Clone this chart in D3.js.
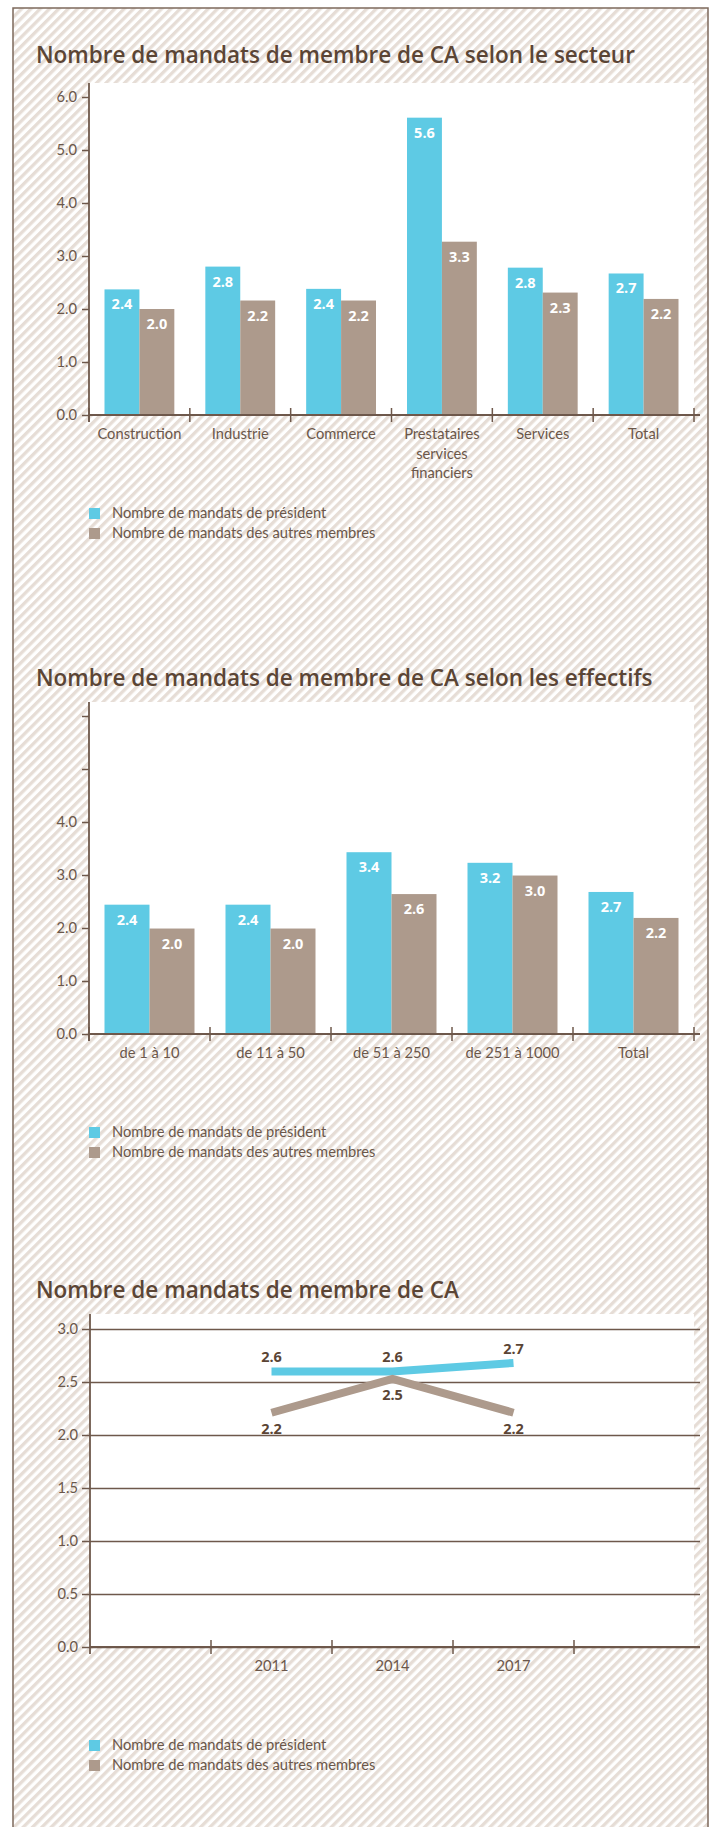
<!DOCTYPE html>
<html>
<head>
<meta charset="utf-8">
<script src="https://cdn.jsdelivr.net/npm/d3@7"></script>
<style>
  body { margin: 0; background: #fff; }
  svg text { font-family: Lato, "Open Sans", sans-serif; }
  .title { font-family: "Open Sans", sans-serif; font-weight: 600; font-size: 22.5px; fill: #5b4535; }
  .tick text, .cat-label, .legend text { font-size: 14.7px; fill: #6b574a; }
  .bar-label { font-family: "Open Sans", sans-serif; font-weight: 700; font-size: 14.5px; fill: #fff; }
  .line-label { font-family: "Open Sans", sans-serif; font-weight: 700; font-size: 14.5px; fill: #5b4535; }
</style>
</head>
<body>
<script>
// Chart 1 : by sector
var sectorCategories = ["Construction", "Industrie", "Commerce", "Prestataires services financiers", "Services", "Total"];
var sectorPresident = [2.37, 2.8, 2.38, 5.61, 2.78, 2.67];
var sectorOthers = [2.0, 2.16, 2.16, 3.27, 2.31, 2.19];

// Chart 2 : by headcount
var sizeCategories = ["de 1 à 10", "de 11 à 50", "de 51 à 250", "de 251 à 1000", "Total"];
var sizePresident = [2.44, 2.44, 3.43, 3.23, 2.68];
var sizeOthers = [1.99, 1.99, 2.64, 2.99, 2.19];

// Chart 3 : over time
var years = ["2011", "2014", "2017"];
var yearPresident = [2.6, 2.6, 2.68];
var yearOthers = [2.21, 2.53, 2.21];

var seriesNames = ["Nombre de mandats de président", "Nombre de mandats des autres membres"];
var barTicks = [0, 1, 2, 3, 4, 5, 6];
var lineTicks = [0, 0.5, 1, 1.5, 2, 2.5, 3];

var colors = ["#5ecae4", "#ad9a8c"];
var axisColor = "#6e584b";
var fmt = d3.format(".1f");

var svgWidth = 715;
var svgHeight = 1827;

var svg = d3.select("body")
  .append("svg")
  .attr("width", svgWidth)
  .attr("height", svgHeight);

// striped background pattern
var defs = svg.append("defs");
var pattern = defs.append("pattern")
  .attr("id", "stripes")
  .attr("patternUnits", "userSpaceOnUse")
  .attr("width", 6.6)
  .attr("height", 6.6)
  .attr("patternTransform", "rotate(45)");
pattern.append("rect").attr("width", 6.6).attr("height", 6.6).attr("fill", "#fff");
pattern.append("rect").attr("width", 3.3).attr("height", 6.6).attr("fill", "#e6ddd6");

svg.append("rect")
  .attr("x", 13).attr("y", 8)
  .attr("width", 695).attr("height", 1840)
  .attr("fill", "url(#stripes)")
  .attr("stroke", "#7d695c")
  .attr("stroke-width", 1.5);

function wrap(text, width) {
  text.each(function () {
    var t = d3.select(this);
    var words = t.text().split(/\s+/);
    var x = t.attr("x") || 0;
    var y = t.attr("y");
    var dy = parseFloat(t.attr("dy")) || 0;
    var line = [];
    var lineNumber = 0;
    var tspan = t.text(null).append("tspan").attr("x", x).attr("y", y).attr("dy", dy + "em");
    words.forEach(function (word) {
      line.push(word);
      tspan.text(line.join(" "));
      if (tspan.node().getComputedTextLength() > width && line.length > 1) {
        line.pop();
        tspan.text(line.join(" "));
        line = [word];
        tspan = t.append("tspan").attr("x", x).attr("y", y)
          .attr("dy", (++lineNumber * 1.3 + dy) + "em").text(word);
      }
    });
  });
}

function drawTitle(text, y) {
  svg.append("text").attr("class", "title").attr("x", 36).attr("y", y).text(text);
}

function drawLegend(y) {
  var legend = svg.append("g").attr("class", "legend");
  seriesNames.forEach(function (name, i) {
    legend.append("rect")
      .attr("x", 89).attr("y", y + i * 20)
      .attr("width", 11).attr("height", 11)
      .attr("fill", colors[i]);
    legend.append("text")
      .attr("x", 112).attr("y", y + i * 20 + 10)
      .text(name);
  });
}

function drawBarChart(cfg) {
  var left = 89, right = 694;
  var n = cfg.categories.length;
  var yScale = d3.scaleLinear().domain([0, 6]).range([cfg.y0, cfg.y0 - 6 * 53]);
  var xScale = d3.scaleBand().domain(cfg.categories).range([left, right]);
  var bw = xScale.bandwidth();
  var inner = d3.scaleBand().domain([0, 1]).range([15.5, bw - 15.5]);

  // white plot panel
  svg.append("rect")
    .attr("x", left).attr("y", cfg.top)
    .attr("width", right - left).attr("height", cfg.y0 - cfg.top)
    .attr("fill", "#fff");

  var series = [cfg.president, cfg.others];
  series.forEach(function (vals, s) {
    var g = svg.append("g");
    g.selectAll("rect")
      .data(vals)
      .enter()
      .append("rect")
      .attr("x", function (d, i) { return xScale(cfg.categories[i]) + inner(s); })
      .attr("y", function (d) { return yScale(d); })
      .attr("width", inner.bandwidth())
      .attr("height", function (d) { return cfg.y0 - yScale(d); })
      .attr("fill", colors[s]);
    g.selectAll("text")
      .data(vals)
      .enter()
      .append("text")
      .attr("class", "bar-label")
      .attr("text-anchor", "middle")
      .attr("x", function (d, i) { return xScale(cfg.categories[i]) + inner(s) + inner.bandwidth() / 2; })
      .attr("y", function (d) { return yScale(d) + 20; })
      .text(function (d) { return fmt(d); });
  });

  // y axis
  var leftAxis = d3.axisLeft(yScale)
    .tickValues(barTicks)
    .tickSize(7)
    .tickPadding(5)
    .tickFormat(function (d) { return d <= cfg.maxLabel ? fmt(d) : ""; });
  var gy = svg.append("g").attr("transform", "translate(" + left + ",0)").call(leftAxis);
  gy.select(".domain").remove();
  gy.selectAll("line").attr("stroke", axisColor).attr("stroke-width", 1.5);
  svg.append("line")
    .attr("x1", left).attr("x2", left)
    .attr("y1", cfg.top).attr("y2", cfg.y0 + 7)
    .attr("stroke", axisColor).attr("stroke-width", 1.8);

  // x axis
  var bottomAxis = d3.axisBottom(xScale).tickSize(0).tickPadding(14);
  var gx = svg.append("g").attr("transform", "translate(0," + cfg.y0 + ")").call(bottomAxis);
  gx.select(".domain").remove();
  gx.selectAll(".tick text").attr("class", "cat-label").call(wrap, bw - 8);
  svg.append("line")
    .attr("x1", left).attr("x2", right + 6)
    .attr("y1", cfg.y0).attr("y2", cfg.y0)
    .attr("stroke", axisColor).attr("stroke-width", 1.8);
  var bounds = cfg.categories.map(function (c) { return xScale(c); }).concat([xScale(cfg.categories[n - 1]) + bw]);
  svg.append("g").selectAll("line")
    .data(bounds)
    .enter()
    .append("line")
    .attr("x1", function (d) { return d; }).attr("x2", function (d) { return d; })
    .attr("y1", cfg.y0 - 7).attr("y2", cfg.y0 + 7)
    .attr("stroke", axisColor).attr("stroke-width", 1.5);
}

function drawLineChart(cfg) {
  var left = 90, right = 694;
  var yScale = d3.scaleLinear().domain([0, 3]).range([cfg.y0, cfg.y0 - 6 * 53]);
  var xScale = d3.scaleBand().domain(years).range([left, 695]).paddingInner(0).paddingOuter(1);
  var bw = xScale.bandwidth();

  svg.append("rect")
    .attr("x", left).attr("y", cfg.top)
    .attr("width", right - left).attr("height", cfg.y0 - cfg.top)
    .attr("fill", "#fff");

  // y axis with gridlines
  var leftAxis = d3.axisLeft(yScale)
    .tickValues(lineTicks)
    .tickSize(-(right - left + 6))
    .tickPadding(12)
    .tickFormat(fmt);
  var gy = svg.append("g").attr("transform", "translate(" + left + ",0)").call(leftAxis);
  gy.select(".domain").remove();
  gy.selectAll("line").attr("x1", -8).attr("stroke", axisColor).attr("stroke-width", 1.5);

  var drawLine = d3.line()
    .x(function (d, i) { return xScale(years[i]) + bw / 2; })
    .y(function (d) { return yScale(d); });

  var series = [cfg.president, cfg.others];
  series.forEach(function (vals, s) {
    svg.append("path")
      .attr("d", drawLine(vals))
      .attr("fill", "none")
      .attr("stroke", colors[s])
      .attr("stroke-width", 8)
      .attr("stroke-linejoin", "miter")
      .attr("stroke-linecap", "butt");
  });
  series.forEach(function (vals, s) {
    svg.append("g").selectAll("text")
      .data(vals)
      .enter()
      .append("text")
      .attr("class", "line-label")
      .attr("text-anchor", "middle")
      .attr("x", function (d, i) { return xScale(years[i]) + bw / 2; })
      .attr("y", function (d) { return yScale(d) + (s === 0 ? -9 : 21); })
      .text(function (d) { return fmt(d); });
  });

  svg.append("line")
    .attr("x1", left).attr("x2", left)
    .attr("y1", cfg.top).attr("y2", cfg.y0 + 7)
    .attr("stroke", axisColor).attr("stroke-width", 1.8);

  var bottomAxis = d3.axisBottom(xScale).tickSize(0).tickPadding(14);
  var gx = svg.append("g").attr("transform", "translate(0," + cfg.y0 + ")").call(bottomAxis);
  gx.select(".domain").remove();
  svg.append("line")
    .attr("x1", left).attr("x2", right + 6)
    .attr("y1", cfg.y0).attr("y2", cfg.y0)
    .attr("stroke", axisColor).attr("stroke-width", 1.8);
  var bounds = years.map(function (c) { return xScale(c); }).concat([xScale(years[years.length - 1]) + bw]);
  svg.append("g").selectAll("line")
    .data(bounds)
    .enter()
    .append("line")
    .attr("x1", function (d) { return d; }).attr("x2", function (d) { return d; })
    .attr("y1", cfg.y0 - 7).attr("y2", cfg.y0 + 7)
    .attr("stroke", axisColor).attr("stroke-width", 1.5);
}

drawTitle("Nombre de mandats de membre de CA selon le secteur", 63);
drawBarChart({ categories: sectorCategories, president: sectorPresident, others: sectorOthers, top: 83, y0: 415, maxLabel: 6 });
drawLegend(508);

drawTitle("Nombre de mandats de membre de CA selon les effectifs", 686);
drawBarChart({ categories: sizeCategories, president: sizePresident, others: sizeOthers, top: 702, y0: 1034, maxLabel: 4 });
drawLegend(1127);

drawTitle("Nombre de mandats de membre de CA", 1298);
drawLineChart({ president: yearPresident, others: yearOthers, top: 1314, y0: 1647 });
drawLegend(1740);
</script>
</body>
</html>
